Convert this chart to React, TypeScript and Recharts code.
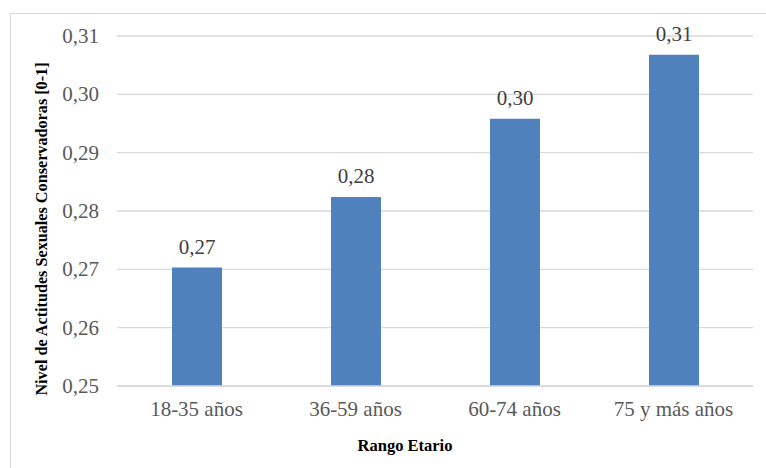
import { BarChart, Bar, CartesianGrid, XAxis, YAxis, LabelList } from 'recharts';

const categories = ['18-35 años', '36-59 años', '60-74 años', '75 y más años'];
const values = [0.2703, 0.2824, 0.2958, 0.3068];
const yTicks = [0.25, 0.26, 0.27, 0.28, 0.29, 0.3, 0.31];

const data = categories.map((name, i) => ({ name, value: values[i] }));

const fmt = (v: number) => v.toFixed(2).replace('.', ',');
const font = "'Times New Roman', 'Liberation Serif', 'DejaVu Serif', serif";

const XTick = (props: any) => {
  const { x, y, payload } = props;
  return (
    <text x={x} y={y + 22} textAnchor="middle" fill="#595959" fontSize={21} style={{ fontFamily: font }}>
      {payload.value}
    </text>
  );
};

const YTick = (props: any) => {
  const { x, y, payload } = props;
  return (
    <text x={x + 1} y={y + 7} textAnchor="end" fill="#595959" fontSize={21} style={{ fontFamily: font }}>
      {fmt(payload.value)}
    </text>
  );
};

const YTitle = () => (
  <text x={42} y={229} transform="rotate(-90, 42, 229)" textAnchor="middle" dominantBaseline="central" fill="#000" fontSize={16.2} fontWeight="bold" style={{ fontFamily: font }}>
    Nivel de Actitudes Sexuales Conservadoras [0-1]
  </text>
);

const XTitle = () => (
  <text x={405} y={451} textAnchor="middle" fill="#000" fontSize={16.5} fontWeight="bold" style={{ fontFamily: font }}>
    Rango Etario
  </text>
);

export default function App() {
  return (
    <div style={{ position: 'absolute', left: 0, top: 0, width: 766, height: 468, background: '#fff', overflow: 'hidden', fontFamily: font }}>
      <div style={{ position: 'absolute', left: 10, top: 13, width: 800, height: 500, border: '1px solid #d9d9d9' }} />
      <div style={{ position: 'absolute', left: 0, top: 0 }}>
        <BarChart width={766} height={468} data={data} margin={{ top: 36, right: 13, left: 0, bottom: 0 }} style={{ fontFamily: font }}>
          <CartesianGrid vertical={false} stroke="#d9d9d9" strokeWidth={1.3} />
          <XAxis
            dataKey="name"
            height={82}
            axisLine={{ stroke: '#d9d9d9', strokeWidth: 1.3 }}
            tickLine={false}
            tickSize={0}
            tickMargin={8}
            tick={<XTick />}
            label={<XTitle />}
          />
          <YAxis
            width={117}
            domain={[0.25, 0.31]}
            ticks={yTicks}
            axisLine={false}
            tickLine={false}
            tickSize={0}
            tickMargin={19}
            tick={<YTick />}
            label={<YTitle />}
          />
          <Bar dataKey="value" fill="#4f81bd" barSize={50} isAnimationActive={false}>
            <LabelList
              dataKey="value"
              position="top"
              content={(p: any) => (
                <text x={p.x + p.width / 2} y={p.y - 14} textAnchor="middle" fill="#404040" fontSize={21} style={{ fontFamily: font }}>
                  {fmt(Number(p.value))}
                </text>
              )}
            />
          </Bar>
        </BarChart>
      </div>
    </div>
  );
}
